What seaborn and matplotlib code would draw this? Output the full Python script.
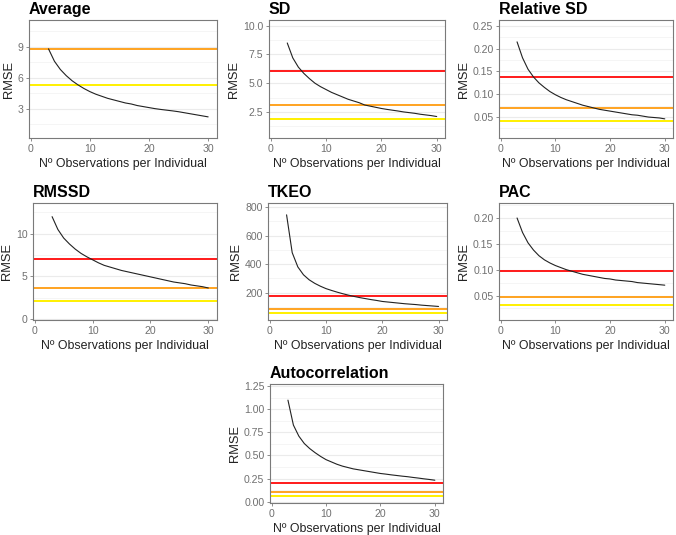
import numpy as np
import pandas as pd
import matplotlib
matplotlib.use('Agg')
import matplotlib.pyplot as plt
import seaborn as sns
from matplotlib.ticker import MultipleLocator

sns.set_theme(style='white')
plt.rcParams['font.family'] = ['Liberation Sans', 'DejaVu Sans']

# 每个个体的观测次数
n_obs = [3, 4, 5, 6, 7, 8, 9, 10, 11, 12, 13, 14, 15, 16,
         17, 18, 19, 20, 21, 22, 23, 24, 25, 26, 27, 28, 29, 30]

# 各指标的 RMSE 曲线
rmse_average = [8.8, 7.6, 6.8, 6.2, 5.7, 5.3, 4.95, 4.65, 4.4, 4.2, 4.0, 3.85, 3.7, 3.55,
                3.45, 3.3, 3.2, 3.1, 3.0, 2.92, 2.85, 2.78, 2.7, 2.6, 2.5, 2.4, 2.3, 2.2]
rmse_sd = [8.5, 7.2, 6.4, 5.85, 5.4, 5.0, 4.7, 4.45, 4.2, 4.0, 3.8, 3.6, 3.45, 3.3,
           3.1, 3.0, 2.9, 2.8, 2.72, 2.65, 2.58, 2.5, 2.44, 2.38, 2.3, 2.24, 2.18, 2.1]
rmse_relsd = [0.215, 0.18, 0.155, 0.138, 0.125, 0.115, 0.106, 0.099, 0.093, 0.088, 0.084,
              0.08, 0.076, 0.073, 0.07, 0.067, 0.065, 0.063, 0.061, 0.059, 0.057, 0.055,
              0.054, 0.052, 0.05, 0.049, 0.048, 0.046]
rmse_rmssd = [12.0, 10.5, 9.5, 8.8, 8.2, 7.7, 7.3, 6.95, 6.6, 6.3, 6.1, 5.9, 5.7, 5.55,
              5.4, 5.25, 5.1, 4.95, 4.8, 4.65, 4.5, 4.35, 4.25, 4.15, 4.0, 3.9, 3.8, 3.65]
rmse_tkeo = [745, 480, 380, 325, 290, 265, 245, 228, 215, 203, 192, 182, 173, 165,
             158, 151, 145, 138, 134, 130, 126, 122, 119, 116, 112, 109, 106, 103]
rmse_pac = [0.2, 0.172, 0.152, 0.138, 0.127, 0.119, 0.113, 0.108, 0.104, 0.1, 0.097, 0.094,
            0.091, 0.089, 0.087, 0.085, 0.083, 0.082, 0.08, 0.079, 0.078, 0.077, 0.075,
            0.074, 0.073, 0.072, 0.071, 0.07]
rmse_auto = [1.10, 0.83, 0.71, 0.63, 0.575, 0.53, 0.49, 0.455, 0.43, 0.405, 0.385, 0.37,
             0.355, 0.345, 0.335, 0.325, 0.315, 0.305, 0.298, 0.29, 0.283, 0.276, 0.27,
             0.262, 0.255, 0.247, 0.24, 0.232]

# 参考线（红 / 橙 / 黄），None 表示该面板没有
ref_average = [None, 8.8, 5.3]
ref_sd = [6.05, 3.08, 1.92]
ref_relsd = [0.1375, 0.069, 0.041]
ref_rmssd = [7.0, 3.6, 2.1]
ref_tkeo = [179, 88, 55]
ref_pac = [0.097, 0.048, 0.031]
ref_auto = [0.207, 0.105, 0.058]

ref_colors = ['#FF1A1A', '#FFA320', '#FFF000']

W, H = 676, 535
fig = plt.figure(figsize=(W / 100, H / 100), dpi=100)


def panel(px, title, y, refs, ylim, major, minor):
    l, r, t, b = px
    ax = fig.add_axes([l / W, 1 - b / H, (r - l) / W, (b - t) / H])
    ax.set_ylim(*ylim)
    ax.set_xlim(-0.3, 31.5)
    ax.yaxis.set_major_locator(MultipleLocator(major))
    ax.yaxis.set_minor_locator(MultipleLocator(minor))
    ax.xaxis.set_major_locator(MultipleLocator(10))
    ax.grid(which='major', axis='y', color='#EBEBEB', lw=0.8)
    ax.grid(which='minor', axis='y', color='#F4F4F4', lw=0.6)
    ax.grid(which='major', axis='x', visible=False)
    ax.set_axisbelow(True)
    for c, v in zip(ref_colors, refs):
        if v is not None:
            ax.axhline(v, color=c, lw=1.4, zorder=2)
    df = pd.DataFrame({'n': n_obs, 'rmse': y})
    sns.lineplot(data=df, x='n', y='rmse', color='#222222', lw=0.8, ax=ax, zorder=3)
    for s in ax.spines.values():
        s.set_color('#7A7A7A')
        s.set_linewidth(0.8)
    ax.tick_params(which='major', length=2.5, width=0.6, color='#7A7A7A',
                   labelsize=7.6, labelcolor='#707070', pad=1.5, direction='out',
                   bottom=True, left=True)
    ax.tick_params(which='minor', length=0)
    ax.set_xlabel('Nº Observations per Individual', fontsize=8.9, color='#222222', labelpad=3)
    ax.set_ylabel('RMSE', fontsize=9.3, color='#222222', labelpad=2)
    ax.set_title(title, fontsize=11.5, fontweight='bold', loc='left', x=0,
                 pad=4, color='black')
    return ax


panel((29, 217, 20, 138), 'Average', rmse_average, ref_average, (0.15, 11.6), 3, 1.5)
panel((269, 445, 20, 138), 'SD', rmse_sd, ref_sd, (0.23, 10.5), 2.5, 1.25)
panel((499, 673, 20, 138), 'Relative SD', rmse_relsd, ref_relsd, (0.004, 0.263), 0.05, 0.025)
panel((33, 217, 203, 320), 'RMSSD', rmse_rmssd, ref_rmssd, (-0.1, 13.6), 5, 2.5)
panel((268, 447, 203, 320), 'TKEO', rmse_tkeo, ref_tkeo, (8, 828), 200, 100)
panel((499, 673, 203, 320), 'PAC', rmse_pac, ref_pac, (0.0026, 0.229), 0.05, 0.025)
panel((270, 443, 384, 503), 'Autocorrelation', rmse_auto, ref_auto, (-0.015, 1.275), 0.25, 0.125)

fig.savefig('out.png', dpi=100)
